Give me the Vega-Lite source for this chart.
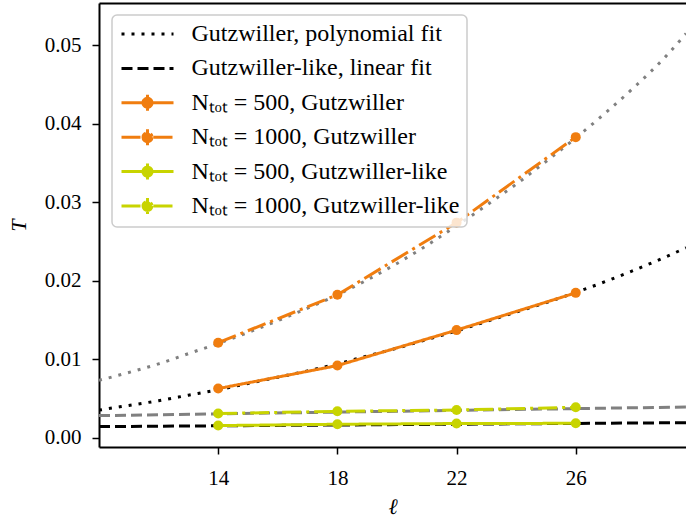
{
  "$schema": "https://vega.github.io/schema/vega-lite/v6.json",
  "autosize": "none",
  "padding": {"left": 99, "top": 3, "right": 0, "bottom": 72},
  "width": 587,
  "height": 444,
  "background": "white",
  "config": {
    "view": {"stroke": null},
    "font": "Liberation Serif",
    "axis": {
      "labelFont": "Liberation Serif",
      "labelFontSize": 21,
      "labelColor": "black",
      "titleFont": "Liberation Serif",
      "titleFontSize": 22,
      "titleColor": "black",
      "titleFontWeight": "normal",
      "domainColor": "black",
      "domainWidth": 2,
      "tickColor": "black",
      "tickWidth": 1.5,
      "tickSize": 7,
      "grid": false
    },
    "legend": {
      "orient": "none",
      "legendX": 13,
      "legendY": 12,
      "title": null,
      "fillColor": "rgba(255,255,255,0.8)",
      "strokeColor": "#cccccc",
      "strokeWidth": 1.5,
      "cornerRadius": 5,
      "padding": 7,
      "rowPadding": 6.4,
      "gridAlign": "all",
      "labelFont": "Liberation Serif",
      "labelFontSize": 24,
      "labelColor": "black",
      "labelLimit": 0,
      "labelOffset": 32,
      "symbolOffset": 16.5,
      "symbolSize": 400,
      "symbolStrokeWidth": 3,
      "symbolType": "M-2.6,0H2.6"
    }
  },
  "datasets": {
    "fits": [
      {"l": 10, "T": 0.0035, "series": "Gutzwiller, polynomial fit", "ref": "500", "curve": "p500"},
      {"l": 11, "T": 0.0041, "series": "Gutzwiller, polynomial fit", "ref": "500", "curve": "p500"},
      {"l": 12, "T": 0.0047, "series": "Gutzwiller, polynomial fit", "ref": "500", "curve": "p500"},
      {"l": 13, "T": 0.0054, "series": "Gutzwiller, polynomial fit", "ref": "500", "curve": "p500"},
      {"l": 14, "T": 0.0061, "series": "Gutzwiller, polynomial fit", "ref": "500", "curve": "p500"},
      {"l": 15, "T": 0.0069, "series": "Gutzwiller, polynomial fit", "ref": "500", "curve": "p500"},
      {"l": 16, "T": 0.0077, "series": "Gutzwiller, polynomial fit", "ref": "500", "curve": "p500"},
      {"l": 17, "T": 0.0085, "series": "Gutzwiller, polynomial fit", "ref": "500", "curve": "p500"},
      {"l": 18, "T": 0.0094, "series": "Gutzwiller, polynomial fit", "ref": "500", "curve": "p500"},
      {"l": 19, "T": 0.0104, "series": "Gutzwiller, polynomial fit", "ref": "500", "curve": "p500"},
      {"l": 20, "T": 0.0114, "series": "Gutzwiller, polynomial fit", "ref": "500", "curve": "p500"},
      {"l": 21, "T": 0.0125, "series": "Gutzwiller, polynomial fit", "ref": "500", "curve": "p500"},
      {"l": 22, "T": 0.0136, "series": "Gutzwiller, polynomial fit", "ref": "500", "curve": "p500"},
      {"l": 23, "T": 0.0148, "series": "Gutzwiller, polynomial fit", "ref": "500", "curve": "p500"},
      {"l": 24, "T": 0.0160, "series": "Gutzwiller, polynomial fit", "ref": "500", "curve": "p500"},
      {"l": 25, "T": 0.0172, "series": "Gutzwiller, polynomial fit", "ref": "500", "curve": "p500"},
      {"l": 26, "T": 0.0185, "series": "Gutzwiller, polynomial fit", "ref": "500", "curve": "p500"},
      {"l": 27, "T": 0.0199, "series": "Gutzwiller, polynomial fit", "ref": "500", "curve": "p500"},
      {"l": 28, "T": 0.0214, "series": "Gutzwiller, polynomial fit", "ref": "500", "curve": "p500"},
      {"l": 29, "T": 0.0230, "series": "Gutzwiller, polynomial fit", "ref": "500", "curve": "p500"},
      {"l": 29.7, "T": 0.0242, "series": "Gutzwiller, polynomial fit", "ref": "500", "curve": "p500"},
      {"l": 10, "T": 0.0073, "series": "Gutzwiller, polynomial fit", "ref": "1000", "curve": "p1000"},
      {"l": 11, "T": 0.0083, "series": "Gutzwiller, polynomial fit", "ref": "1000", "curve": "p1000"},
      {"l": 12, "T": 0.0094, "series": "Gutzwiller, polynomial fit", "ref": "1000", "curve": "p1000"},
      {"l": 13, "T": 0.0107, "series": "Gutzwiller, polynomial fit", "ref": "1000", "curve": "p1000"},
      {"l": 14, "T": 0.0120, "series": "Gutzwiller, polynomial fit", "ref": "1000", "curve": "p1000"},
      {"l": 15, "T": 0.0134, "series": "Gutzwiller, polynomial fit", "ref": "1000", "curve": "p1000"},
      {"l": 16, "T": 0.0149, "series": "Gutzwiller, polynomial fit", "ref": "1000", "curve": "p1000"},
      {"l": 17, "T": 0.0165, "series": "Gutzwiller, polynomial fit", "ref": "1000", "curve": "p1000"},
      {"l": 18, "T": 0.0182, "series": "Gutzwiller, polynomial fit", "ref": "1000", "curve": "p1000"},
      {"l": 19, "T": 0.0201, "series": "Gutzwiller, polynomial fit", "ref": "1000", "curve": "p1000"},
      {"l": 20, "T": 0.0222, "series": "Gutzwiller, polynomial fit", "ref": "1000", "curve": "p1000"},
      {"l": 21, "T": 0.0245, "series": "Gutzwiller, polynomial fit", "ref": "1000", "curve": "p1000"},
      {"l": 22, "T": 0.0270, "series": "Gutzwiller, polynomial fit", "ref": "1000", "curve": "p1000"},
      {"l": 23, "T": 0.0296, "series": "Gutzwiller, polynomial fit", "ref": "1000", "curve": "p1000"},
      {"l": 24, "T": 0.0323, "series": "Gutzwiller, polynomial fit", "ref": "1000", "curve": "p1000"},
      {"l": 25, "T": 0.0352, "series": "Gutzwiller, polynomial fit", "ref": "1000", "curve": "p1000"},
      {"l": 26, "T": 0.0382, "series": "Gutzwiller, polynomial fit", "ref": "1000", "curve": "p1000"},
      {"l": 27, "T": 0.0414, "series": "Gutzwiller, polynomial fit", "ref": "1000", "curve": "p1000"},
      {"l": 28, "T": 0.0448, "series": "Gutzwiller, polynomial fit", "ref": "1000", "curve": "p1000"},
      {"l": 29, "T": 0.0485, "series": "Gutzwiller, polynomial fit", "ref": "1000", "curve": "p1000"},
      {"l": 29.7, "T": 0.0515, "series": "Gutzwiller, polynomial fit", "ref": "1000", "curve": "p1000"},
      {"l": 10, "T": 0.0014, "series": "Gutzwiller-like, linear fit", "ref": "500", "curve": "l500"},
      {"l": 29.7, "T": 0.0019, "series": "Gutzwiller-like, linear fit", "ref": "500", "curve": "l500"},
      {"l": 10, "T": 0.0028, "series": "Gutzwiller-like, linear fit", "ref": "1000", "curve": "l1000"},
      {"l": 29.7, "T": 0.0039, "series": "Gutzwiller-like, linear fit", "ref": "1000", "curve": "l1000"}
    ],
    "points": [
      {"l": 14, "T": 0.00625, "series": "Nₜₒₜ = 500, Gutzwiller"},
      {"l": 18, "T": 0.00918, "series": "Nₜₒₜ = 500, Gutzwiller"},
      {"l": 22, "T": 0.0137, "series": "Nₜₒₜ = 500, Gutzwiller"},
      {"l": 26, "T": 0.01845, "series": "Nₜₒₜ = 500, Gutzwiller"},
      {"l": 14, "T": 0.0121, "series": "Nₜₒₜ = 1000, Gutzwiller"},
      {"l": 18, "T": 0.0182, "series": "Nₜₒₜ = 1000, Gutzwiller"},
      {"l": 22, "T": 0.0274, "series": "Nₜₒₜ = 1000, Gutzwiller"},
      {"l": 26, "T": 0.0383, "series": "Nₜₒₜ = 1000, Gutzwiller"},
      {"l": 14, "T": 0.00153, "series": "Nₜₒₜ = 500, Gutzwiller-like"},
      {"l": 18, "T": 0.0017, "series": "Nₜₒₜ = 500, Gutzwiller-like"},
      {"l": 22, "T": 0.00179, "series": "Nₜₒₜ = 500, Gutzwiller-like"},
      {"l": 26, "T": 0.00182, "series": "Nₜₒₜ = 500, Gutzwiller-like"},
      {"l": 14, "T": 0.00306, "series": "Nₜₒₜ = 1000, Gutzwiller-like"},
      {"l": 18, "T": 0.00335, "series": "Nₜₒₜ = 1000, Gutzwiller-like"},
      {"l": 22, "T": 0.00352, "series": "Nₜₒₜ = 1000, Gutzwiller-like"},
      {"l": 26, "T": 0.00386, "series": "Nₜₒₜ = 1000, Gutzwiller-like"}
    ]
  },
  "resolve": {"axis": {"x": "independent"}},
  "layer": [
    {
      "data": {"name": "fits"},
      "transform": [{"filter": "datum.ref == '1000'"}],
      "mark": {"type": "line", "strokeWidth": 3, "interpolate": "monotone", "clip": true, "color": "#808080"},
      "encoding": {
        "x": {"field": "l", "type": "quantitative", "scale": {"domain": [10, 29.7], "nice": false, "zero": false},
              "axis": {"orient": "top", "labels": false, "ticks": false, "title": null, "domain": true}},
        "y": {"field": "T", "type": "quantitative", "scale": {"domain": [-0.0012, 0.0554], "nice": false, "zero": false}},
        "detail": {"field": "curve"},
        "strokeDash": {"field": "series", "type": "nominal",
          "scale": {"domain": ["Gutzwiller, polynomial fit", "Gutzwiller-like, linear fit", "Nₜₒₜ = 500, Gutzwiller", "Nₜₒₜ = 1000, Gutzwiller", "Nₜₒₜ = 500, Gutzwiller-like", "Nₜₒₜ = 1000, Gutzwiller-like"],
                    "range": [[3, 7], [11, 5], [1, 0], [19, 5, 3, 5], [1, 0], [19, 5, 3, 5]]}}
      }
    },
    {
      "data": {"name": "fits"},
      "transform": [{"filter": "datum.ref == '500'"}],
      "mark": {"type": "line", "strokeWidth": 3, "interpolate": "monotone", "clip": true},
      "encoding": {
        "x": {"field": "l", "type": "quantitative",
              "axis": {"orient": "bottom", "values": [14, 18, 22, 26], "title": "ℓ", "titleFontStyle": "italic", "labelPadding": 13, "titlePadding": 8, "labelFont": "Liberation Serif", "titleFont": "Liberation Serif"}},
        "y": {"field": "T", "type": "quantitative",
              "axis": {"values": [0, 0.01, 0.02, 0.03, 0.04, 0.05], "format": ".2f", "title": "T", "titleFontStyle": "italic", "labelPadding": 11, "titlePadding": 14, "labelFont": "Liberation Serif", "titleFont": "Liberation Serif"}},
        "detail": {"field": "curve"},
        "color": {"field": "series", "type": "nominal",
          "scale": {"domain": ["Gutzwiller, polynomial fit", "Gutzwiller-like, linear fit", "Nₜₒₜ = 500, Gutzwiller", "Nₜₒₜ = 1000, Gutzwiller", "Nₜₒₜ = 500, Gutzwiller-like", "Nₜₒₜ = 1000, Gutzwiller-like"],
                    "range": ["#000000", "#000000", "#f07d0f", "#f07d0f", "#c8d400", "#c8d400"]},
          "legend": {
            "encode": {
              "symbols": {
                "update": {
                  "shape": {"signal": "indexof(datum.label, 'fit') >= 0 ? 'M-2.6,0H2.6' : 'M-2.6,0H2.6M0,-0.8V0.8M0.45,0A0.45,0.45,0,1,1,-0.45,0A0.45,0.45,0,1,1,0.45,0'"},
                  "fill": {"signal": "indexof(datum.label, 'fit') >= 0 ? 'transparent' : scale('color', datum.value)"}
                }
              }
            }
          }},
        "strokeDash": {"field": "series", "type": "nominal"}
      }
    },
    {
      "data": {"name": "points"},
      "mark": {"type": "line", "strokeWidth": 3, "clip": true},
      "encoding": {
        "x": {"field": "l", "type": "quantitative", "axis": null},
        "y": {"field": "T", "type": "quantitative"},
        "color": {"field": "series", "type": "nominal"},
        "strokeDash": {"field": "series", "type": "nominal"}
      }
    },
    {
      "data": {"name": "points"},
      "mark": {"type": "circle", "size": 100, "opacity": 1, "clip": true},
      "encoding": {
        "x": {"field": "l", "type": "quantitative", "axis": null},
        "y": {"field": "T", "type": "quantitative"},
        "color": {"field": "series", "type": "nominal"}
      }
    }
  ]
}
